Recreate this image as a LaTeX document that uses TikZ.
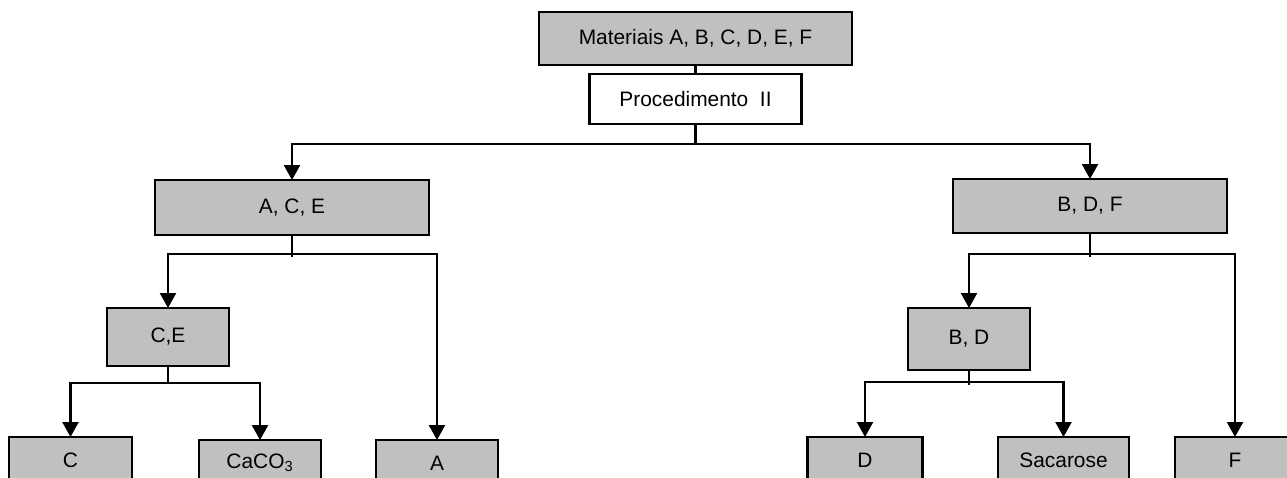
\documentclass[tikz,border=0pt]{standalone}
\usepackage{fontspec}
\setmainfont{Liberation Sans}
\usetikzlibrary{positioning}
\usetikzlibrary{arrows.meta}
\usetikzlibrary{calc}

\begin{document}
\begin{tikzpicture}[
    x=0.02cm, y=-0.02cm,
    block/.style={align=center, rectangle, draw=black, fill=boxgray, line width=1.3pt,
        inner sep=0pt, outer sep=0pt, font=\fontsize{11.9}{14}\selectfont},
    leaf/.style={block, minimum height=0.92cm},
    conn/.style={line width=1.3pt},
    arr/.style={conn, -{Triangle[length=0.3cm, width=0.32cm]}},
]
    \definecolor{boxgray}{HTML}{C0C0C0}
    \clip (0,0) rectangle (1287,477);

    \node[block, minimum width=6.26cm, minimum height=1.06cm] (M) at (695.5,38.5) {Materiais A, B, C, D, E, F};
    \node[block, fill=white, minimum width=4.24cm, minimum height=1cm] (P) at (695.5,99) {Procedimento\ \ II};

    \node[block, minimum width=5.48cm, minimum height=1.1cm] (ACE) at (292,207.5) {A, C, E};
    \node[block, minimum width=5.48cm, minimum height=1.08cm] (BDF) at (1090,206) {B, D, F};

    \node[block, minimum width=2.44cm, minimum height=1.16cm] (CE) at (168,337) {C,E};
    \node[block, minimum width=2.44cm, minimum height=1.24cm] (BD) at (969,339) {B, D};

    \node[leaf, minimum width=2.46cm] (C) [anchor=north] at (70.5,437) {C};
    \node[leaf, minimum width=2.44cm] (Ca) [anchor=north] at (260,440) {CaCO\textsubscript{3}};
    \node[leaf, minimum width=2.44cm] (A) [anchor=north] at (437,440) {A};
    \node[leaf, minimum width=2.30cm] (D) [anchor=north] at (865,437) {D};
    \node[leaf, minimum width=2.62cm] (S) [anchor=north] at (1063.5,437) {Sacarose};
    \node[leaf, minimum width=2.40cm] (F) [anchor=north] at (1235,437) {F};

    \coordinate (S1) at ($(P.south)+(0,20)$);
    \coordinate (S2) at ($(ACE.south)+(0,19)$);
    \coordinate (S3) at ($(BDF.south)+(0,21)$);
    \coordinate (S4) at ($(CE.south)+(0,17)$);
    \coordinate (S5) at ($(BD.south)+(0,12)$);

    \draw[conn] (M.south) -- (P.north);
    \draw[conn] (P.south) -- (S1);
    \draw[arr] (S1) -| (ACE.north);
    \draw[arr] (S1) -| (BDF.north);

    \draw[conn] (ACE.south) -- ($(S2)+(0,3)$);
    \draw[arr] (S2) -| (CE.north);
    \draw[arr] (S2) -| (A.north);
    \draw[conn] (BDF.south) -- ($(S3)+(0,3)$);
    \draw[arr] (S3) -| (BD.north);
    \draw[arr] (S3) -| (F.north);

    \draw[conn] (CE.south) -- (S4);
    \draw[arr] (S4) -| (C.north);
    \draw[arr] (S4) -| (Ca.north);
    \draw[conn] (BD.south) -- ($(S5)+(0,3)$);
    \draw[arr] (S5) -| (D.north);
    \draw[arr] (S5) -| (S.north);

\end{tikzpicture}
\end{document}
